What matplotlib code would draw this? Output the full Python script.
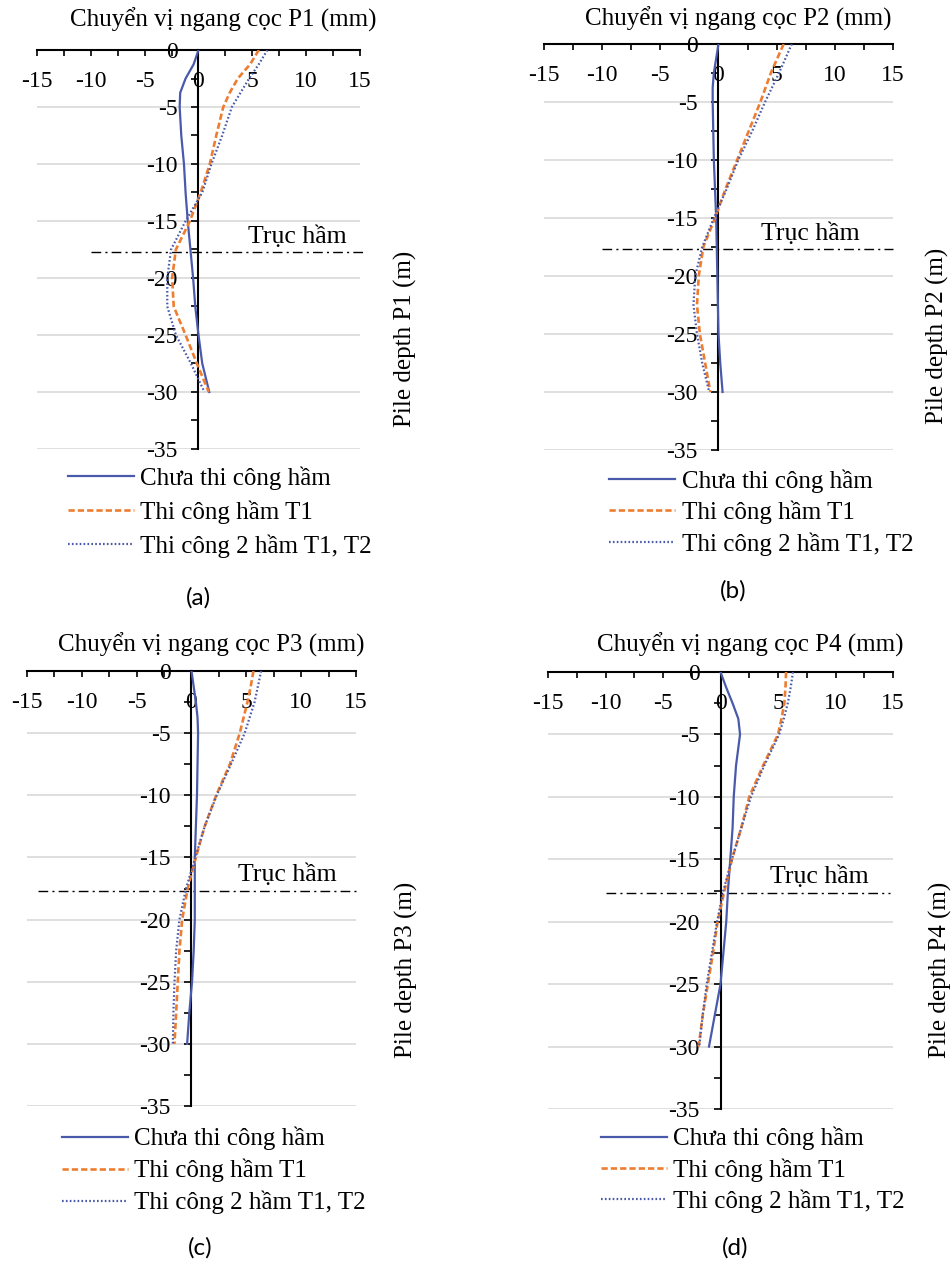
import matplotlib
matplotlib.use("Agg")
import matplotlib.pyplot as plt
from matplotlib.ticker import MultipleLocator

plt.rcParams["font.family"] = ["Liberation Serif", "DejaVu Serif"]
plt.rcParams["lines.scale_dashes"] = False
plt.rcParams["axes.unicode_minus"] = False

# ---- data -------------------------------------------------------------
depth = [0, -1.25, -2.5, -3.75, -5, -7.5, -10, -12.5, -15, -17.5, -20,
         -22.5, -25, -27.5, -30]

series_names = ["Chưa thi công hầm", "Thi công hầm T1", "Thi công 2 hầm T1, T2"]
piles = ["P1", "P2", "P3", "P4"]
panel_tags = ["(a)", "(b)", "(c)", "(d)"]

p1_before = [0, -0.45, -1.2, -1.7, -1.75, -1.6, -1.35, -1.2, -1.0, -0.75, -0.5, -0.3, 0.0, 0.35, 1.0]
p1_t1 = [5.6, 4.8, 3.65, 2.9, 2.3, 1.65, 1.05, 0.2, -0.8, -2.1, -2.45, -2.3, -1.2, -0.15, 0.95]
p1_t1t2 = [6.4, 5.6, 4.7, 3.9, 3.1, 2.2, 1.2, 0.35, -1.2, -2.55, -2.9, -2.9, -2.1, -0.7, 0.55]

p2_before = [0, -0.2, -0.4, -0.5, -0.5, -0.45, -0.4, -0.3, -0.2, -0.15, -0.1, -0.05, 0.0, 0.15, 0.35]
p2_t1 = [5.6, 5.05, 4.5, 4.05, 3.6, 2.6, 1.6, 0.6, -0.3, -1.3, -1.7, -1.85, -1.6, -1.15, -0.7]
p2_t1t2 = [6.3, 5.75, 5.2, 4.6, 4.0, 2.9, 1.7, 0.7, -0.4, -1.4, -2.0, -2.15, -1.85, -1.4, -0.8]

p3_before = [0, 0.2, 0.4, 0.55, 0.6, 0.55, 0.5, 0.4, 0.3, 0.3, 0.3, 0.2, 0.05, -0.2, -0.4]
p3_t1 = [5.65, 5.4, 5.1, 4.75, 4.4, 3.5, 2.25, 1.2, 0.4, -0.35, -0.85, -1.1, -1.25, -1.4, -1.55]
p3_t1t2 = [6.35, 6.05, 5.75, 5.3, 4.85, 3.6, 2.3, 1.2, 0.35, -0.5, -1.1, -1.4, -1.55, -1.65, -1.7]

p4_before = [0, 0.5, 1.05, 1.55, 1.7, 1.35, 1.15, 1.05, 0.85, 0.65, 0.5, 0.25, 0.0, -0.5, -1.0]
p4_t1 = [5.7, 5.65, 5.55, 5.3, 5.0, 3.7, 2.5, 1.8, 1.0, 0.35, -0.25, -0.65, -1.1, -1.55, -1.9]
p4_t1t2 = [6.3, 6.1, 5.85, 5.5, 5.1, 3.8, 2.65, 1.8, 1.0, 0.25, -0.3, -0.75, -1.2, -1.55, -1.85]

tunnel_axis_depth = -17.7
tunnel_label = "Trục hầm"

# ---- layout (pixels) ---------------------------------------------------
W, H = 953, 1263
fig = plt.figure(figsize=(W / 100, H / 100), dpi=100)

def fx(px):
    return px / W

def fy(py):
    return 1 - py / H

# axes box: left, right, top(y=0), bottom(y=-35)
boxes = [(37, 360, 50, 449), (544, 893, 44, 450),
         (27, 356, 671, 1106), (548, 893, 672, 1109)]
title_pos = [(223, 20), (738, 19), (211, 645), (750, 645)]
ylabel_pos = [(405, 339), (937, 336), (406, 970), (940, 970)]
tunnel_text_x = [9.2, 7.9, 8.7, 8.6]
tunnel_line_x = [(-10, 15.3), (-10, 15), (-14, 15), (-10, 14.7)]
legend_pos = [(68, 466), (609, 469), (62, 1127), (601, 1127)]
legend_spacing = [0.42, 0.32, 0.34, 0.31]
tag_pos = [(198, 598), (733, 591), (200, 1248), (735, 1248)]

data = [(p1_before, p1_t1, p1_t1t2), (p2_before, p2_t1, p2_t1t2),
        (p3_before, p3_t1, p3_t1t2), (p4_before, p4_t1, p4_t1t2)]

blue = "#4a5aab"
orange = "#ed7d31"
FS = 17

for i in range(4):
    l, r, t, b = boxes[i]
    ax = fig.add_axes([fx(l), fy(b), (r - l) / W, (b - t) / H])
    ax.set_xlim(-15, 15)
    ax.set_ylim(-35, 0)
    ax.patch.set_alpha(0)

    for s in ("bottom", "right"):
        ax.spines[s].set_visible(False)
    ax.spines["top"].set_linewidth(1.5)
    ax.spines["left"].set_linewidth(1.5)
    ax.spines["left"].set_position(("data", 0))

    ax.xaxis.set_major_locator(MultipleLocator(5))
    ax.xaxis.set_minor_locator(MultipleLocator(2.5))
    ax.yaxis.set_major_locator(MultipleLocator(5))
    ax.yaxis.set_minor_locator(MultipleLocator(2.5))
    ax.xaxis.tick_top()
    ax.tick_params(axis="x", which="both", direction="in", length=4, width=1.2,
                   labelsize=FS, pad=-30, top=True, bottom=False,
                   labeltop=True, labelbottom=False)
    ax.tick_params(axis="y", which="both", direction="out", length=5, width=1.2,
                   labelsize=FS, pad=10)
    ax.grid(axis="y", which="major", color="#d9d9d9", linewidth=1.2)
    ax.set_axisbelow(True)

    before, t1, t1t2 = data[i]
    ax.plot(before, depth, color=blue, lw=1.6, label=series_names[0], zorder=4)
    ax.plot(t1, depth, color=orange, lw=1.9, linestyle=(0, (4.5, 2.2)),
            label=series_names[1], zorder=5)
    ax.plot(t1t2, depth, color=blue, lw=1.6, linestyle=(0, (1.2, 1.6)),
            label=series_names[2], zorder=5)

    x0, x1 = tunnel_line_x[i]
    ax.plot([x0, x1], [tunnel_axis_depth, tunnel_axis_depth], color="black",
            lw=1.0, linestyle=(0, (7, 3, 1.5, 3)), clip_on=False, zorder=3)
    ax.text(tunnel_text_x[i], -16.4, tunnel_label, fontsize=FS + 1.5,
            ha="center", va="center")

    fig.text(fx(title_pos[i][0]), fy(title_pos[i][1]),
             f"Chuyển vị ngang cọc {piles[i]} (mm)", fontsize=FS + 1,
             ha="center", va="center")
    fig.text(fx(ylabel_pos[i][0]), fy(ylabel_pos[i][1]),
             f"Pile depth {piles[i]} (m)", fontsize=FS + 1, rotation=90,
             ha="center", va="center")

    ax.legend(loc="upper left",
              bbox_to_anchor=(fx(legend_pos[i][0]), fy(legend_pos[i][1])),
              bbox_transform=fig.transFigure, frameon=False, borderpad=0,
              borderaxespad=0, handlelength=2.65, handletextpad=0.25,
              labelspacing=legend_spacing[i], fontsize=FS + 1)

    fig.text(fx(tag_pos[i][0]), fy(tag_pos[i][1]), panel_tags[i],
             fontsize=FS + 0.5, family=["Lato", "DejaVu Sans"],
             ha="center", va="center")

fig.savefig("out.png", dpi=100)
